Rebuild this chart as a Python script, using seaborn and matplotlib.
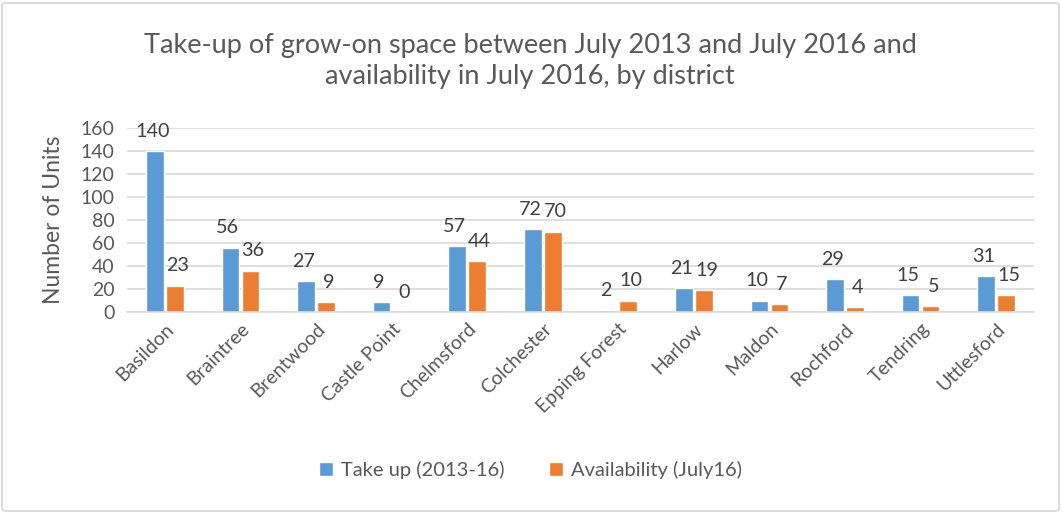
import matplotlib
matplotlib.use("Agg")
import matplotlib.pyplot as plt
import seaborn as sns
import pandas as pd
from matplotlib.patches import FancyBboxPatch

districts = ["Basildon", "Braintree", "Brentwood", "Castle Point", "Chelmsford",
             "Colchester", "Epping Forest", "Harlow", "Maldon", "Rochford",
             "Tendring", "Uttlesford"]
take_up = [140, 56, 27, 9, 57, 72, 2, 21, 10, 29, 15, 31]
availability = [23, 36, 9, 0, 44, 70, 10, 19, 7, 4, 5, 15]
series_names = ["Take up (2013-16)", "Availability (July16)"]
y_ticks = [0, 20, 40, 60, 80, 100, 120, 140, 160]

df = pd.DataFrame({
    "District": districts * 2,
    "Units": take_up + availability,
    "Series": [series_names[0]] * len(districts) + [series_names[1]] * len(districts),
})

sns.set_theme(style="white")
plt.rcParams["font.family"] = ["Lato", "DejaVu Sans"]
text_color = "#595959"

fig = plt.figure(figsize=(10.62, 5.13), dpi=100)
ax = fig.add_axes([127 / 1062, 1 - 312 / 513, (1034 - 127) / 1062, (312 - 128) / 513])

sns.barplot(data=df, x="District", y="Units", hue="Series", order=districts,
            hue_order=series_names, palette=["#5B9BD5", "#ED7D31"],
            width=0.53, gap=0.12, ax=ax, saturation=1)

# value labels above each bar, nudged slightly apart within a pair
for cont, dx in zip(ax.containers, (-1.8, 1.8)):
    labels = ax.bar_label(cont, fmt="%d", padding=8, fontsize=14.2, color="#404040")
    for lab in labels:
        lab.xyann = (dx, 8)

ax.set_ylim(0, 160)
ax.set_yticks(y_ticks)
ax.set_yticklabels([str(v) for v in y_ticks], fontsize=14, color=text_color)
ax.yaxis.grid(True, color="#D9D9D9", linewidth=1.2)
ax.set_axisbelow(True)
for s in ["top", "right", "left"]:
    ax.spines[s].set_visible(False)
ax.spines["bottom"].set_color("#D9D9D9")
ax.spines["bottom"].set_linewidth(1.2)
ax.tick_params(axis="y", length=0, pad=9)
ax.tick_params(axis="x", length=0, pad=6)
ax.set_xlim(-0.5, len(districts) - 0.5)
ax.set_xticks(range(len(districts)))
ax.set_xticklabels(districts, rotation=45, ha="right", rotation_mode="anchor",
                   fontsize=14, color=text_color)
ax.set_xlabel("")
ax.set_ylabel("Number of Units", fontsize=16.5, color=text_color, labelpad=12)

ax.legend(loc="center", bbox_to_anchor=(0.5 + (530 - 580) / 907, (312 - 470) / 184),
          ncol=2, frameon=False, fontsize=14.5, labelcolor=text_color,
          handlelength=0.7, handleheight=0.7, columnspacing=2.2, handletextpad=0.4)

fig.text(530 / 1062, 1 - 61 / 513,
         "Take-up of grow-on space between July 2013 and July 2016 and\navailability in July 2016, by district",
         ha="center", va="center", fontsize=19.5, color=text_color, linespacing=1.3)

border = FancyBboxPatch((2 / 1062, 2 / 513), 1 - 5 / 1062, 1 - 5 / 513,
                        boxstyle="round,pad=0,rounding_size=0.004",
                        transform=fig.transFigure, fill=False,
                        edgecolor="#D9D9D9", linewidth=1.3)
fig.patches.append(border)

fig.savefig("out.png", dpi=100)
